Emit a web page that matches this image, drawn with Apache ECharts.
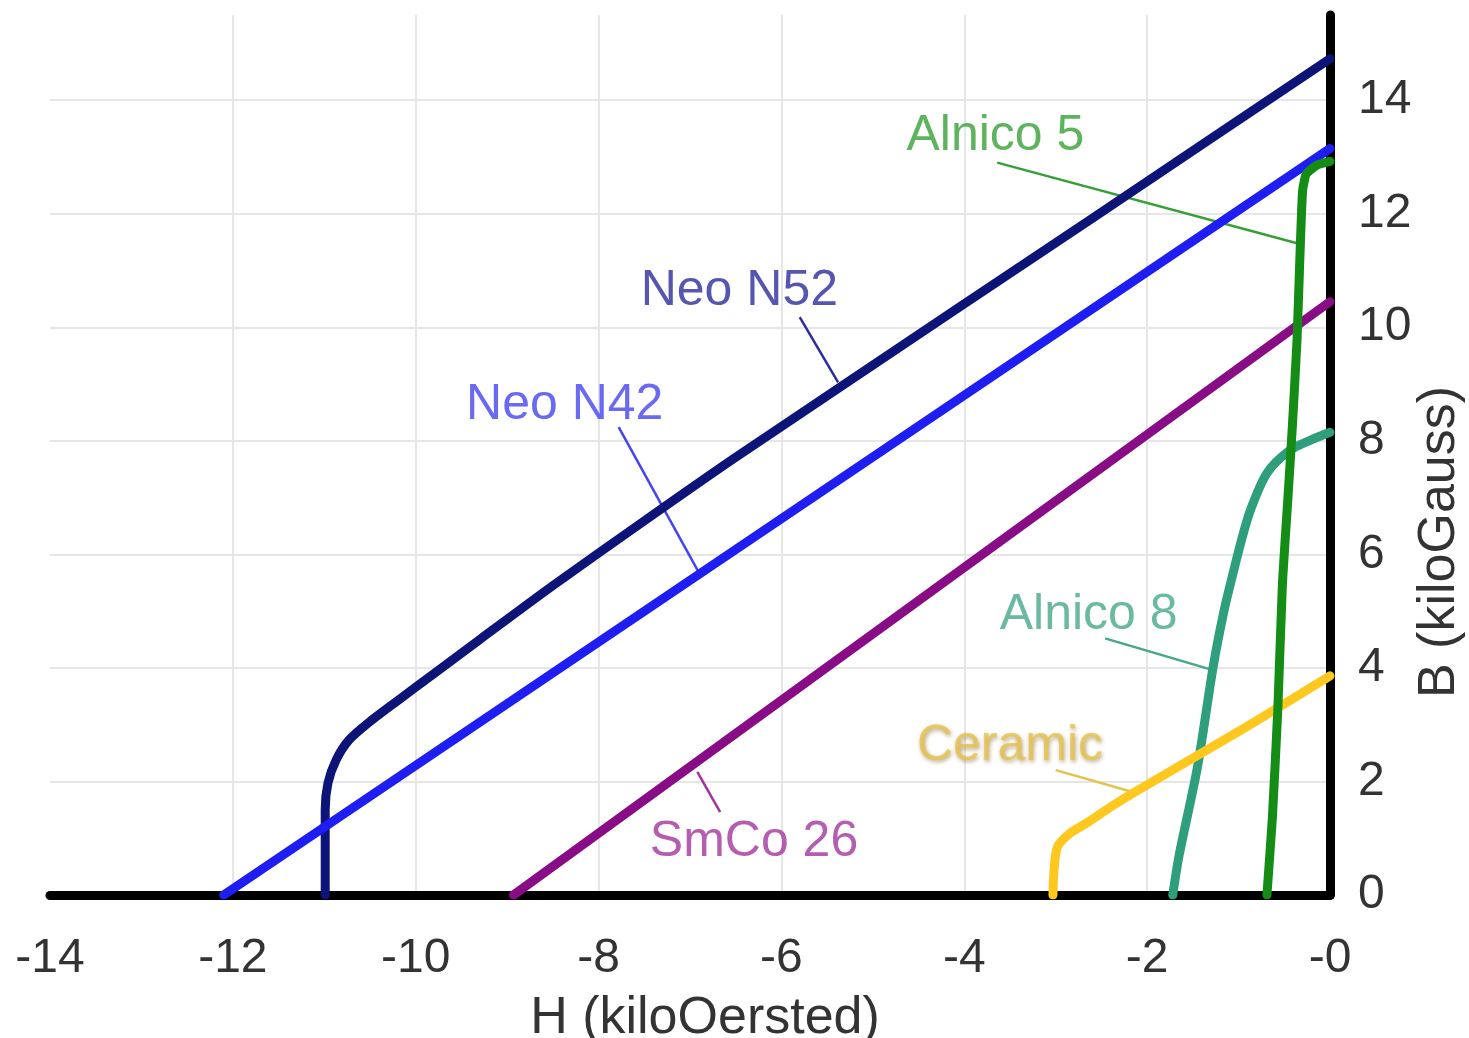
<!DOCTYPE html>
<html>
<head>
<meta charset="utf-8">
<script src="https://cdn.jsdelivr.net/npm/echarts@6/dist/echarts.min.js"></script>
<style>
html,body{margin:0;padding:0;background:#fff;}
#c{width:1469px;height:1038px;}
</style>
</head>
<body>
<div id="c"></div>
<script>
// ---- data (H in kiloOersted, B in kiloGauss) ----
const curveNames = ['Neo N52', 'Neo N42', 'SmCo 26', 'Alnico 8', 'Ceramic', 'Alnico 5'];

const n52H = [0, -2.59, -4.04, -6.5, -7.5, -8.5, -9.3, -9.8, -10.2, -10.52, -10.73, -10.87, -10.96, -10.99, -10.99];
const n52B = [14.73, 11.93, 10.37, 7.71, 6.59, 5.45, 4.5, 3.9, 3.42, 3.03, 2.73, 2.38, 1.97, 1.5, 0];

const n42H = [0, -12.1];
const n42B = [13.15, 0];

const smcoH = [0, -8.93];
const smcoB = [10.45, 0];

const alnico8H = [-1.72, -1.65, -1.45, -1.28, -1.16, -1.06, -0.96, -0.87, -0.69, -0.44, -0.2, 0];
const alnico8B = [0, 0.7, 2.25, 4.0, 5.0, 5.67, 6.3, 6.78, 7.43, 7.83, 8.02, 8.15];

const ceramicH = [-3.03, -3.02, -2.98, -2.85, -2.66, -2.4, -2.15, -1, 0];
const ceramicB = [0, 0.4, 0.85, 1.08, 1.27, 1.55, 1.8, 2.88, 3.86];

const alnico5H = [-0.69, -0.63, -0.57, -0.52, -0.46, -0.41, -0.36, -0.33, -0.3, -0.26, -0.15, 0];
const alnico5B = [0, 1.37, 3.3, 5.5, 7.0, 8.3, 9.8, 11.2, 12.4, 12.7, 12.85, 12.92];

// annotation labels and leader lines (data coordinates)
const noteText  = ['Alnico 5', 'Neo N52', 'Neo N42', 'SmCo 26', 'Alnico 8', 'Ceramic'];
const noteH     = [-3.66, -6.46, -8.37, -6.3, -2.64, -3.5];
const noteB     = [13.37, 10.64, 8.62, 0.93, 4.93, 2.62];
const leadFromH = [-3.64, -5.8, -7.78, -6.67, -2.46, -3.0];
const leadFromB = [12.9, 10.18, 8.24, 1.46, 4.52, 2.2];
const leadToH   = [-0.36, -5.38, -6.91, -6.92, -1.28, -2.15];
const leadToB   = [11.48, 9.03, 5.7, 2.17, 3.96, 1.81];

// ---- styles ----
const curveColors = ['#0c1478', '#1e1ef2', '#880c86', '#2f9e7c', '#ffc81e', '#158c15'];
const noteColors  = ['#36a036', '#2c2c9e', '#4444f0', '#a2349e', '#45a888', '#e6c24c'];
const FONT = '"Liberation Sans", Arial, Helvetica, sans-serif';

const pairs = (h, b) => h.map((v, i) => [v, b[i]]);
const curveData = [
  pairs(n52H, n52B), pairs(n42H, n42B), pairs(smcoH, smcoB),
  pairs(alnico8H, alnico8B), pairs(ceramicH, ceramicB), pairs(alnico5H, alnico5B)
];
const curveSmooth = [0.25, false, false, 0.3, 0.3, 0.15];

const series = [];
noteText.forEach((t, i) => {
  series.push({
    type: 'line', name: t + ' leader', silent: true, symbol: 'none', z: 1,
    data: [[leadFromH[i], leadFromB[i]], [leadToH[i], leadToB[i]]],
    lineStyle: { color: noteColors[i], width: 2.5 }
  });
});
curveNames.forEach((n, i) => {
  series.push({
    type: 'line', name: n, symbol: 'none', z: 2, smooth: curveSmooth[i],
    data: curveData[i],
    lineStyle: { color: curveColors[i], width: 9, cap: 'round', join: 'round' }
  });
});
series.push({
  type: 'scatter', name: 'notes', silent: true, z: 3, symbolSize: 1,
  itemStyle: { color: 'rgba(0,0,0,0)' },
  data: noteText.map((t, i) => {
    const item = {
      name: t, value: [noteH[i], noteB[i]],
      label: { show: true, position: 'inside', formatter: '{b}', color: noteColors[i],
               fontSize: 50, fontFamily: FONT }
    };
    if (t === 'Ceramic') {
      Object.assign(item.label, { textShadowColor: 'rgba(110,80,0,0.6)', textShadowBlur: 4,
        textShadowOffsetX: 1, textShadowOffsetY: 2 });
    }
    return item;
  })
});

const chart = echarts.init(document.getElementById('c'));
chart.setOption({
  animation: false,
  backgroundColor: '#ffffff',
  grid: { left: 50, right: 139, top: 15, bottom: 143 },
  xAxis: {
    type: 'value', min: -14, max: 0, interval: 2,
    axisLine: { show: true, onZero: false, lineStyle: { color: '#000', width: 9 } },
    axisTick: { show: false },
    axisLabel: { color: '#333', fontSize: 48, fontFamily: FONT, margin: 40,
                 formatter: v => '-' + Math.abs(v) },
    splitLine: { show: true, showMinLine: false, showMaxLine: false,
                 lineStyle: { color: '#e6e6e6', width: 2 } }
  },
  yAxis: {
    type: 'value', position: 'right', min: 0, max: 15.5, interval: 2,
    axisLine: { show: true, lineStyle: { color: '#000', width: 9 } },
    axisTick: { show: false },
    axisLabel: { color: '#333', fontSize: 48, fontFamily: FONT, margin: 28, showMaxLabel: false,
                 formatter: v => (v % 2 === 0 ? String(v) : '') },
    splitLine: { show: true, showMinLine: false, showMaxLine: false,
                 lineStyle: { color: '#e6e6e6', width: 2 } }
  },
  graphic: [
    { type: 'text', x: 705, y: 1019, silent: true,
      style: { text: 'H (kiloOersted)', fontSize: 52, fontFamily: FONT, fill: '#333',
               align: 'center', verticalAlign: 'middle' } },
    { type: 'text', x: 1440, y: 542, rotation: Math.PI / 2, silent: true,
      style: { text: 'B (kiloGauss)', fontSize: 52, fontFamily: FONT, fill: '#333',
               align: 'center', verticalAlign: 'middle' } }
  ],
  series: series
});
</script>
</body>
</html>
